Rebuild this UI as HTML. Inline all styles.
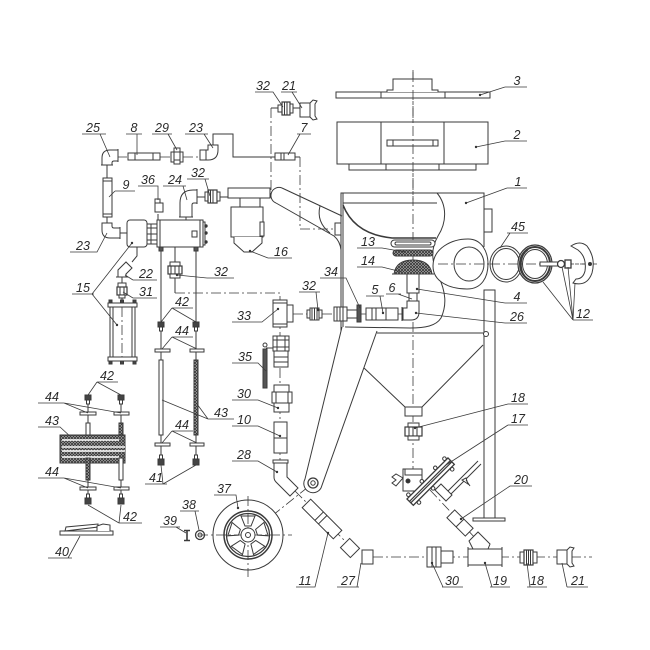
<!DOCTYPE html>
<html><head><meta charset="utf-8"><style>
html,body{margin:0;padding:0;background:#fff;}
svg{display:block}
text{font-family:"Liberation Sans",sans-serif;font-style:italic;font-size:12.5px;fill:#2a2a2a;text-anchor:middle;stroke:none}
</style></head><body>
<svg width="650" height="650" viewBox="0 0 650 650" xmlns="http://www.w3.org/2000/svg">
<defs>
<pattern id="h" width="3" height="3" patternUnits="userSpaceOnUse"><rect width="3" height="3" fill="#bbb"/><path d="M0,3 L3,0 M0,0 L3,3" stroke="#333" stroke-width="0.8"/></pattern>
</defs>
<rect width="650" height="650" fill="#fff"/>
<g fill="none" stroke="#3a3a3a" stroke-width="1">
<g stroke-dasharray="10 3 2 3" stroke-width="0.8">
<path d="M413,70 V470"/>
<path d="M438,264 H598"/>
<path d="M117,157 H128 M160,157 H170 M183,157 H200"/>
<path d="M271,108 V197"/>
<path d="M300,157 V229 H335"/>
<path d="M175,293 H280 V462"/>
<path d="M293,314 H307 M322,314 H334 M360,314 H366 M398,314 H403"/>
<path d="M295,491 L346,542"/>
<path d="M373,557 H592"/>
<path d="M430,490 L478,541"/>
<path d="M258,527 L313,483"/>
</g>
<path d="M213,145 V134 H233 V157 H275"/>
<path d="M295,157 H300"/>
<path d="M271,108 H278 M293,108 H300"/>
<path d="M107,165 V178 M107,217 V223 M120,233 H127"/>
<path d="M197,197 H205 M220,197 H228 M262,197 H271"/>
<path d="M186,217 V220 M158,214 V220 M175,247 V262 M175,278 V293"/>
<path d="M137,247 V256 L132,262"/>
<path d="M161,251 V455 M196,251 V455"/>
<path d="M88,404 V498 M121,404 V498"/>
<path d="M122,277 V283 M122,298 V303"/>

<rect x="336" y="92" width="154" height="6" fill="#fff"/>
<path d="M381,92 V98 M445,92 V98"/>
<path d="M387,92 V90 H393 V79 H432 V90 H438 V92" fill="#fff"/>
<rect x="337" y="122" width="151" height="42" fill="#fff"/>
<path d="M381,122 V164 M444,122 V164"/>
<rect x="387" y="140" width="51" height="6" fill="#fff"/>
<path d="M393,140 V146 M433,140 V146"/>
<rect x="349" y="164" width="127" height="6" fill="#fff"/>
<path d="M386,164 V170 M439,164 V170"/>
<path d="M413,72 V200" stroke-dasharray="10 3 2 3" stroke-width="0.8"/>

<path d="M282,188 L342,216"/>
<path d="M276,203 L334,236 Q340,241 341,250"/>
<path d="M282,188 A8,8 0 0 0 276,203"/>
<path d="M320,206 Q316,222 330,233"/>

<path d="M341,333 V193 H484 V247"/>
<path d="M343,193 V327"/>
<rect x="335" y="223" width="6" height="12" fill="#fff"/>
<rect x="484" y="209" width="8" height="23" fill="#fff"/>
<path d="M343,203 H437"/>
<path d="M437,193 C447,205 447,222 438,236 C430,250 432,262 438,275 C446,292 447,305 441,318 C436,326 425,328 410,328 L345,327"/>
<path d="M343,205 C352,228 372,236 392,238 H436" stroke-width="1.6"/>
<rect x="391" y="240" width="44" height="7" rx="3.5" fill="#fff"/>
<rect x="395" y="242" width="36" height="3" rx="1.5"/>
<rect x="393" y="250" width="40" height="6" rx="3" fill="url(#h)"/>
<path d="M394,274 Q396,260 413,260 Q430,260 432,274 Z" fill="url(#h)"/>
<path d="M392,274 H434"/>
<rect x="407" y="274" width="12" height="19" fill="#fff"/>
<rect x="409" y="293" width="8" height="8" fill="#fff"/>
<path d="M407,301 H419 V312 Q419,320 411,320 H403 V308 H407 Z" fill="#fff"/>
<path d="M402,307 V321"/>
<rect x="366" y="308" width="32" height="12" fill="#fff"/>
<path d="M372,308 V320 M376,308 V320 M386,308 V320"/>
<rect x="334" y="307" width="13" height="14" fill="#fff"/>
<path d="M337,307 V321 M340,307 V321 M343,307 V321"/>
<rect x="347" y="310" width="10" height="8" fill="#fff"/>
<rect x="357" y="305" width="4" height="17" fill="#555"/>
<rect x="307" y="310" width="3" height="8" fill="#fff"/>
<rect x="310" y="308" width="9" height="12" fill="#fff"/>
<path d="M312,308 V320 M314.5,308 V320 M317,308 V320"/>
<rect x="319" y="310" width="3" height="8" fill="#fff"/>
<path d="M273,300 H287 V305 H293 V322 H287 V327 H273 Z" fill="#fff"/>
<path d="M287,305 V322 M273,303 H287 M273,324 H287"/>

<path d="M433,266 C433,248 452,239 468,239 C482,239 488,252 488,264 C488,277 482,289 467,289 C450,289 433,282 433,266 Z" fill="#fff"/>
<ellipse cx="469" cy="264" rx="15" ry="17"/>
<path d="M438,264 H488" stroke-dasharray="10 3 2 3" stroke-width="0.8"/>
<ellipse cx="506" cy="264" rx="16" ry="18" fill="#fff"/>
<ellipse cx="506" cy="264" rx="13.5" ry="15.5"/>
<ellipse cx="535" cy="264" rx="17" ry="19" fill="#fff" stroke-width="1.2"/>
<ellipse cx="535" cy="264" rx="15" ry="17" stroke-width="2"/>
<ellipse cx="535" cy="264" rx="12.5" ry="14.5"/>
<path d="M528,250 C519,256 519,272 528,279"/>
<path d="M490,264 H598" stroke-dasharray="10 3 2 3" stroke-width="0.8"/>
<rect x="540" y="262" width="18" height="4" fill="#fff"/>
<circle cx="561" cy="264" r="3.5" fill="#fff" stroke-width="1.3"/>
<rect x="565" y="260" width="6" height="8" fill="#fff" stroke-width="1.3"/>
<path d="M571,246 Q580,240 587,246 Q596,258 592,273 Q587,287 573,283 L576,279 Q583,279 585,271 Q587,257 578,250 Z" fill="#fff"/>
<circle cx="590" cy="264" r="1.5" fill="#333"/>

<path d="M484,290 V333"/>
<rect x="484" y="290" width="11" height="228" fill="#fff"/>
<rect x="473" y="518" width="32" height="3" fill="#fff"/>
<path d="M377,333 H485"/>
<circle cx="486" cy="334" r="2.5" fill="#fff"/>
<path d="M363,367 L405,407 M483,345 L422,407"/>
<rect x="405" y="407" width="17" height="9" fill="#fff"/>
<path d="M342,327 L305,479 A9,9 0 0 0 321,488 L377,331" fill="#fff"/>
<circle cx="313" cy="483" r="5" stroke-width="1.3"/>
<circle cx="313" cy="483" r="2.2"/>

<rect x="408" y="423" width="11" height="4" fill="#fff"/>
<rect x="405" y="427" width="17" height="9" fill="#fff" stroke-width="1.2"/>
<path d="M409,427 V436 M413,427 V436 M417,427 V436"/>
<rect x="408" y="436" width="11" height="4" fill="#fff"/>

<rect x="403" y="469" width="19" height="22" fill="#fff"/>
<path d="M405,469 V475 H422"/>
<path d="M403,478 L396,474 L392,477 L396,480 L392,483 L396,486 Z" fill="#fff"/>
<circle cx="408" cy="481" r="2" fill="#333"/>
<path d="M444,495 L478,461 M447,498 L481,464"/>
<path d="M441,484 L452,495 L446,501 L435,490 Z" fill="#fff"/>
<path d="M462,480 L468,484 L466,478 Z M470,486 L466,480" fill="#fff"/>
<g transform="rotate(-45 431 482)">
<rect x="402" y="477" width="58" height="9" fill="#fff" stroke-width="1.3"/>
<path d="M402,480.5 H460 M402,482.5 H460" stroke-width="1.2"/>
<circle cx="406" cy="475" r="1.8" fill="#fff"/><circle cx="425" cy="475" r="1.8" fill="#fff"/><circle cx="444" cy="475" r="1.8" fill="#fff"/><circle cx="457" cy="475" r="1.8" fill="#fff"/>
<circle cx="408" cy="488" r="1.8" fill="#fff"/><circle cx="428" cy="488" r="1.8" fill="#fff"/><circle cx="455" cy="488" r="1.8" fill="#fff"/>
</g>

<g transform="rotate(45 460 523)"><rect x="447" y="517.5" width="26" height="11" fill="#fff"/><path d="M460,517.5 V528.5"/></g>
<g transform="rotate(45 322 519)"><rect x="300" y="513" width="44" height="12" fill="#fff"/><path d="M318,513 V525 M323,513 V525"/></g>
<g transform="rotate(45 350 548)"><rect x="343" y="541.5" width="14" height="13" fill="#fff"/></g>
<rect x="362" y="550" width="11" height="14" fill="#fff"/>

<path d="M274,463 H287 V477 L298,488 L290,496 L276,482 Q274,480 274,477 Z" fill="#fff"/>
<rect x="273" y="460" width="15" height="3" fill="#fff"/>
<rect x="274" y="422" width="13" height="31" fill="#fff"/>
<path d="M274,438 H287"/>
<rect x="274" y="385" width="15" height="7" fill="#fff"/>
<rect x="272" y="392" width="20" height="11" fill="#fff"/>
<path d="M276,392 V403 M288,392 V403"/>
<rect x="274" y="403" width="15" height="9" fill="#fff"/>
<rect x="273" y="336" width="16" height="15" fill="#fff"/>
<path d="M273,340 H289 M273,347 H289 M277,336 V351 M285,336 V351"/>
<rect x="274" y="351" width="14" height="16" fill="#fff"/>
<path d="M274,357 H288 M274,362 H288"/>
<path d="M266,348 H273"/>
<rect x="263" y="349" width="4" height="39" fill="#555"/>
<circle cx="265" cy="345" r="2" fill="#fff"/>

<rect x="427" y="547" width="14" height="20" fill="#fff"/>
<path d="M432,547 V567 M436,547 V567"/>
<rect x="441" y="551" width="12" height="12" fill="#fff"/>
<path d="M473,549 L469,541 L478,532 L490,544 L488,549" fill="#fff"/>
<rect x="468" y="549" width="34" height="16" fill="#fff"/>
<path d="M468,547 V567 M502,547 V567"/>
<rect x="520" y="552" width="4" height="11" fill="#fff"/>
<rect x="524" y="550" width="9" height="15" fill="#fff" stroke-width="1.2"/>
<path d="M526.5,550 V565 M528.5,550 V565 M530.5,550 V565"/>
<rect x="533" y="552" width="4" height="11" fill="#fff"/>
<rect x="557" y="550" width="10" height="14" fill="#fff"/>
<path d="M567,550 L570,547 L574,548 L572,551 V563 L574,566 L570,567 L567,564 Z" fill="#fff"/>

<circle cx="248" cy="535" r="35" fill="#fff"/>
<path d="M198,535 H292 M248,496 V577" stroke-dasharray="10 3 2 3" stroke-width="0.8"/>
<circle cx="248" cy="535" r="24" stroke-width="1.5"/>
<circle cx="248" cy="535" r="21.5" stroke-width="1.3"/>
<circle cx="248" cy="535" r="7" fill="#fff"/>
<circle cx="248" cy="535" r="2.5"/>
<path d="M251,526 L245,526 L241,516 L255,516 Z"/>
<path d="M257.5,535.1 L255.6,529.4 L263.9,522.5 L268.2,535.8 Z"/>
<path d="M250.9,544 L255.7,540.5 L264.8,546.3 L253.5,554.5 Z"/>
<path d="M240.3,540.5 L245.1,544 L242.5,554.5 L231.2,546.3 Z"/>
<path d="M240.4,529.4 L238.5,535.1 L227.8,535.8 L232.1,522.5 Z"/>
<circle cx="200" cy="535" r="4.5" stroke-width="1.3"/>
<circle cx="200" cy="535" r="2"/>
<path d="M187,530 V541 M184,530.5 H190 M184,540.5 H190" stroke-width="1.6"/>
<rect x="60" y="531" width="53" height="4" fill="#fff"/>
<path d="M65,531 L66,527 L98,524 L98,527 Z" fill="#fff"/>
<path d="M97,531 V526 L103,524 L110,525 L110,531" fill="#fff"/>

<rect x="278" y="105" width="4" height="7" fill="#fff"/>
<rect x="282" y="102" width="8" height="13" fill="#fff" stroke-width="1.2"/>
<path d="M284.5,102 V115 M287,102 V115"/>
<rect x="290" y="104" width="3" height="9" fill="#fff"/>
<rect x="300" y="103" width="10" height="14" fill="#fff"/>
<path d="M310,103 L313,100 L317,101 L315,104 V116 L317,119 L313,120 L310,117 Z" fill="#fff"/>
<rect x="275" y="153" width="20" height="7" fill="#fff"/>
<path d="M281,153 V160 M284,153 V160"/>
<rect x="128" y="153" width="32" height="7" fill="#fff"/>
<path d="M135,153 V160 M153,153 V160"/>
<rect x="171" y="152" width="3" height="10" fill="#fff"/>
<rect x="174" y="148" width="6" height="16" fill="#fff"/>
<rect x="180" y="152" width="3" height="10" fill="#fff"/>
<path d="M174,152 H180 M174,160 H180"/>
<path d="M200,150 H208 V145 H218 V150 Q218,160 208,160 H200 Z" fill="#fff"/>
<path d="M206,150 V160"/>
<path d="M102,165 V158 Q102,150 110,150 H118 V161 H114 Q112,161 112,163 V165 Z" fill="#fff"/>
<path d="M101,165 H113 M118,149 V162"/>
<rect x="103" y="178" width="9" height="39" fill="#fff"/>
<path d="M103,181 H112 M103,214 H112"/>
<path d="M102,223 H112 V226 Q112,228 114,228 H120 V238 H110 Q102,238 102,230 Z" fill="#fff"/>
<path d="M120,227 V239"/>
<rect x="127" y="220" width="20" height="27" rx="3" fill="#fff"/>
<rect x="147" y="224" width="10" height="20" fill="#fff"/>
<path d="M147,228 H157 M147,234 H157 M147,240 H157 M151,224 V244"/>
<rect x="157" y="220" width="46" height="27" fill="#fff"/>
<path d="M160,220 V247 M200,220 V247"/>
<rect x="203" y="222" width="2" height="23" fill="#fff"/>
<circle cx="206" cy="226" r="1.2" fill="#333"/><circle cx="206" cy="233" r="1.2" fill="#333"/><circle cx="206" cy="242" r="1.2" fill="#333"/>
<rect x="192" y="231" width="5" height="6" fill="#fff"/>
<rect x="159" y="247" width="4" height="4" fill="#555"/>
<rect x="194" y="247" width="4" height="4" fill="#555"/>
<rect x="155" y="199" width="5" height="4" fill="#fff"/>
<rect x="155" y="203" width="8" height="9" fill="#fff"/>
<path d="M180,217 V203 Q180,190 193,190 H197 V203 H194 Q192,203 192,205 V217 Z" fill="#fff"/>
<path d="M197,189 V204 M179,217 H193"/>
<rect x="205" y="192" width="3" height="9" fill="#fff"/>
<rect x="208" y="190" width="9" height="13" fill="#fff" stroke-width="1.2"/>
<path d="M210.5,190 V203 M213,190 V203"/>
<rect x="217" y="192" width="3" height="9" fill="#fff"/>
<rect x="228" y="188" width="42" height="10" fill="#fff"/>
<rect x="240" y="198" width="20" height="9" fill="#fff"/>
<rect x="231" y="207" width="32" height="30" fill="#fff"/>
<rect x="260" y="222" width="4" height="14" fill="#fff"/>
<path d="M234,237 V243 L244,252 H252 L262,243 V237" fill="#fff"/>
<rect x="170" y="262" width="10" height="4" fill="#fff"/>
<rect x="168" y="266" width="14" height="8" fill="#fff" stroke-width="1.2"/>
<path d="M171,266 V274 M175,266 V274 M179,266 V274"/>
<rect x="170" y="274" width="10" height="4" fill="#fff"/>
<path d="M118,277 V270 L126,262 L132,268 L126,274 V277 Z" fill="#fff"/>
<path d="M116,277 H128"/>
<rect x="118" y="283" width="8" height="4" fill="#fff"/>
<rect x="117" y="287" width="10" height="8" fill="#fff" stroke-width="1.2"/>
<path d="M120,287 V295 M124,287 V295"/>
<rect x="119" y="295" width="6" height="3" fill="#fff"/>
<rect x="108" y="303" width="29" height="4" fill="#fff"/>
<rect x="109" y="300" width="3" height="3" fill="#444"/><rect x="120.5" y="300" width="3" height="3" fill="#444"/><rect x="133" y="300" width="3" height="3" fill="#444"/>
<rect x="110" y="307" width="25" height="50" fill="#fff"/>
<path d="M113,307 V357 M132,307 V357"/>
<path d="M122,307 V357" stroke-dasharray="10 3 2 3" stroke-width="0.8"/>
<rect x="108" y="357" width="29" height="4" fill="#fff"/>
<rect x="109" y="361" width="3" height="3" fill="#444"/><rect x="120.5" y="361" width="3" height="3" fill="#444"/><rect x="133" y="361" width="3" height="3" fill="#444"/>

<rect x="158" y="322" width="6" height="5" fill="#444"/><rect x="159.5" y="327" width="3" height="4" fill="#fff"/>
<rect x="193" y="322" width="6" height="5" fill="#444"/><rect x="194.5" y="327" width="3" height="4" fill="#fff"/>
<rect x="155" y="349" width="15" height="3" fill="#fff"/><rect x="190" y="349" width="14" height="3" fill="#fff"/>
<rect x="159" y="360" width="4" height="75" fill="#fff"/>
<rect x="194" y="360" width="4" height="75" fill="url(#h)"/>
<rect x="155" y="443" width="15" height="3" fill="#fff"/><rect x="190" y="443" width="14" height="3" fill="#fff"/>
<rect x="159.5" y="455" width="3" height="4" fill="#fff"/><rect x="158" y="459" width="6" height="6" fill="#444"/>
<rect x="194.5" y="455" width="3" height="4" fill="#fff"/><rect x="193" y="459" width="6" height="6" fill="#444"/>

<rect x="85" y="395" width="6" height="5" fill="#444"/><rect x="86.5" y="400" width="3" height="4" fill="#fff"/>
<rect x="118" y="395" width="6" height="5" fill="#444"/><rect x="119.5" y="400" width="3" height="4" fill="#fff"/>
<rect x="80" y="412" width="16" height="3" fill="#fff"/><rect x="114" y="412" width="15" height="3" fill="#fff"/>
<rect x="86" y="423" width="4" height="12" fill="#fff"/>
<rect x="119" y="423" width="4" height="19" fill="url(#h)"/>
<rect x="60" y="435" width="65" height="28" fill="url(#h)"/>
<path d="M62,440 H119 M62,447 H125 M62,451 H125 M62,457 H119" stroke="#fff" stroke-width="1.6"/>
<rect x="86" y="458" width="4" height="22" fill="url(#h)"/>
<rect x="119" y="458" width="4" height="22" fill="#fff"/>
<rect x="80" y="487" width="16" height="3" fill="#fff"/><rect x="114" y="487" width="15" height="3" fill="#fff"/>
<rect x="86.5" y="494" width="3" height="4" fill="#fff"/><rect x="85" y="498" width="6" height="6" fill="#444"/>
<rect x="119.5" y="494" width="3" height="4" fill="#fff"/><rect x="118" y="498" width="6" height="6" fill="#444"/>

<g stroke-width="0.8">
<path d="M505,87 H527 M505,87 L480,95"/>
<path d="M505,141 H527 M505,141 L476,147"/>
<path d="M507,188 H527 M507,188 L466,203"/>
<path d="M507,233 H528 M510,233 L500,248"/>
<path d="M573,320 H593 M573,320 L543,282 M573,320 L562,267 M573,320 L568,267 M573,320 L575,283"/>
<path d="M357,248 H382 L405,252"/>
<path d="M357,267 H382 L402,272"/>
<path d="M505,303 H527 M505,303 L417,289"/>
<path d="M505,323 H527 M505,323 L416,313"/>
<path d="M320,278 H346 L360,308"/>
<path d="M299,292 H320 M316,292 L318,310"/>
<path d="M366,296 H384 M380,296 L383,313"/>
<path d="M386,294 H401 M398,294 L412,299"/>
<path d="M232,322 H262 L278,309"/>
<path d="M232,363 H258 L266,371"/>
<path d="M232,400 H258 L278,408"/>
<path d="M232,426 H258 L280,436"/>
<path d="M232,461 H258 L277,472"/>
<path d="M214,495 H236 L238,508"/>
<path d="M180,511 H199 M195,511 L199,530"/>
<path d="M160,527 H180 M176,527 L186,533"/>
<path d="M48,558 H72 M68,558 L80,536"/>
<path d="M145,484 H167 M163,484 L161,465 M163,484 L196,465"/>
<path d="M119,523 H142 M119,523 L88,505 M119,523 L121,505"/>
<path d="M38,478 H64 L88,488 M64,478 L121,488"/>
<path d="M38,427 H60 L72,438"/>
<path d="M38,403 H64 L88,413 M64,403 L121,413"/>
<path d="M97,382 H118 M97,382 L88,395 M97,382 L121,395"/>
<path d="M172,308 H193 M172,308 L161,322 M172,308 L196,322"/>
<path d="M172,337 H193 M172,337 L162,349 M172,337 L197,349"/>
<path d="M208,419 H234 M208,419 L162,400 M208,419 L197,404"/>
<path d="M172,431 H193 M172,431 L162,443 M172,431 L197,443"/>
<path d="M72,294 H94 M92,294 L132,243 M92,294 L117,325"/>
<path d="M133,280 H157 M133,280 L125,275"/>
<path d="M133,298 H157 M133,298 L123,292"/>
<path d="M207,278 H234 M207,278 L177,275"/>
<path d="M138,186 H158 L158,200"/>
<path d="M163,186 H186 M183,186 L187,200"/>
<path d="M187,179 H209 M205,179 L210,196"/>
<path d="M268,258 H292 M268,258 L250,251"/>
<path d="M70,252 H97 L107,233"/>
<path d="M115,191 H135 M115,191 L109,197"/>
<path d="M82,134 H106 M100,134 L110,157"/>
<path d="M126,134 H142 M137,134 V155"/>
<path d="M152,134 H172 M168,134 L177,150"/>
<path d="M185,134 H208 M204,134 L213,148"/>
<path d="M297,134 H311 M300,134 L288,155"/>
<path d="M255,92 H273 L283,107"/>
<path d="M281,92 H297 M292,92 L302,108"/>
<path d="M296,587 H315 L328,533"/>
<path d="M337,587 H359 M357,587 L361,563"/>
<path d="M442,587 H463 M443,587 L432,563"/>
<path d="M490,587 H510 M492,587 L485,563"/>
<path d="M527,587 H547 M530,587 L527,563"/>
<path d="M567,587 H588 M567,587 L562,563"/>
<path d="M508,404 H528 M508,404 L415,428"/>
<path d="M508,425 H528 M508,425 L446,465"/>
<path d="M510,486 H532 M510,486 L461,519"/>
</g>
</g>

<g fill="#333">
<circle cx="480" cy="95" r="1.2"/><circle cx="476" cy="147" r="1.2"/><circle cx="466" cy="203" r="1.2"/>
<circle cx="417" cy="289" r="1.2"/><circle cx="416" cy="313" r="1.2"/><circle cx="278" cy="309" r="1.2"/>
<circle cx="278" cy="408" r="1.2"/><circle cx="280" cy="436" r="1.2"/><circle cx="277" cy="472" r="1.2"/>
<circle cx="238" cy="508" r="1.2"/><circle cx="250" cy="251" r="1.2"/><circle cx="132" cy="243" r="1.2"/>
<circle cx="117" cy="325" r="1.2"/><circle cx="177" cy="275" r="1.2"/><circle cx="328" cy="533" r="1.2"/>
<circle cx="432" cy="563" r="1.2"/><circle cx="485" cy="563" r="1.2"/><circle cx="461" cy="519" r="1.2"/>
<circle cx="415" cy="428" r="1.2"/><circle cx="383" cy="313" r="1.2"/><circle cx="318" cy="310" r="1.2"/>
</g>

<text x="517" y="85">3</text>
<text x="517" y="139">2</text>
<text x="518" y="186">1</text>
<text x="518" y="231">45</text>
<text x="583" y="318">12</text>
<text x="368" y="246">13</text>
<text x="368" y="265">14</text>
<text x="517" y="301">4</text>
<text x="517" y="321">26</text>
<text x="331" y="276">34</text>
<text x="309" y="290">32</text>
<text x="375" y="294">5</text>
<text x="392" y="292">6</text>
<text x="244" y="320">33</text>
<text x="245" y="361">35</text>
<text x="244" y="398">30</text>
<text x="244" y="424">10</text>
<text x="244" y="459">28</text>
<text x="224" y="493">37</text>
<text x="189" y="509">38</text>
<text x="170" y="525">39</text>
<text x="62" y="556">40</text>
<text x="156" y="482">41</text>
<text x="130" y="521">42</text>
<text x="52" y="476">44</text>
<text x="52" y="425">43</text>
<text x="52" y="401">44</text>
<text x="107" y="380">42</text>
<text x="182" y="306">42</text>
<text x="182" y="335">44</text>
<text x="221" y="417">43</text>
<text x="182" y="429">44</text>
<text x="83" y="292">15</text>
<text x="146" y="278">22</text>
<text x="146" y="296">31</text>
<text x="221" y="276">32</text>
<text x="148" y="184">36</text>
<text x="175" y="184">24</text>
<text x="198" y="177">32</text>
<text x="281" y="256">16</text>
<text x="83" y="250">23</text>
<text x="126" y="189">9</text>
<text x="93" y="132">25</text>
<text x="134" y="132">8</text>
<text x="162" y="132">29</text>
<text x="196" y="132">23</text>
<text x="304" y="132">7</text>
<text x="263" y="90">32</text>
<text x="289" y="90">21</text>
<text x="305" y="585">11</text>
<text x="348" y="585">27</text>
<text x="452" y="585">30</text>
<text x="500" y="585">19</text>
<text x="537" y="585">18</text>
<text x="578" y="585">21</text>
<text x="518" y="402">18</text>
<text x="518" y="423">17</text>
<text x="521" y="484">20</text>
</svg>
</body></html>
